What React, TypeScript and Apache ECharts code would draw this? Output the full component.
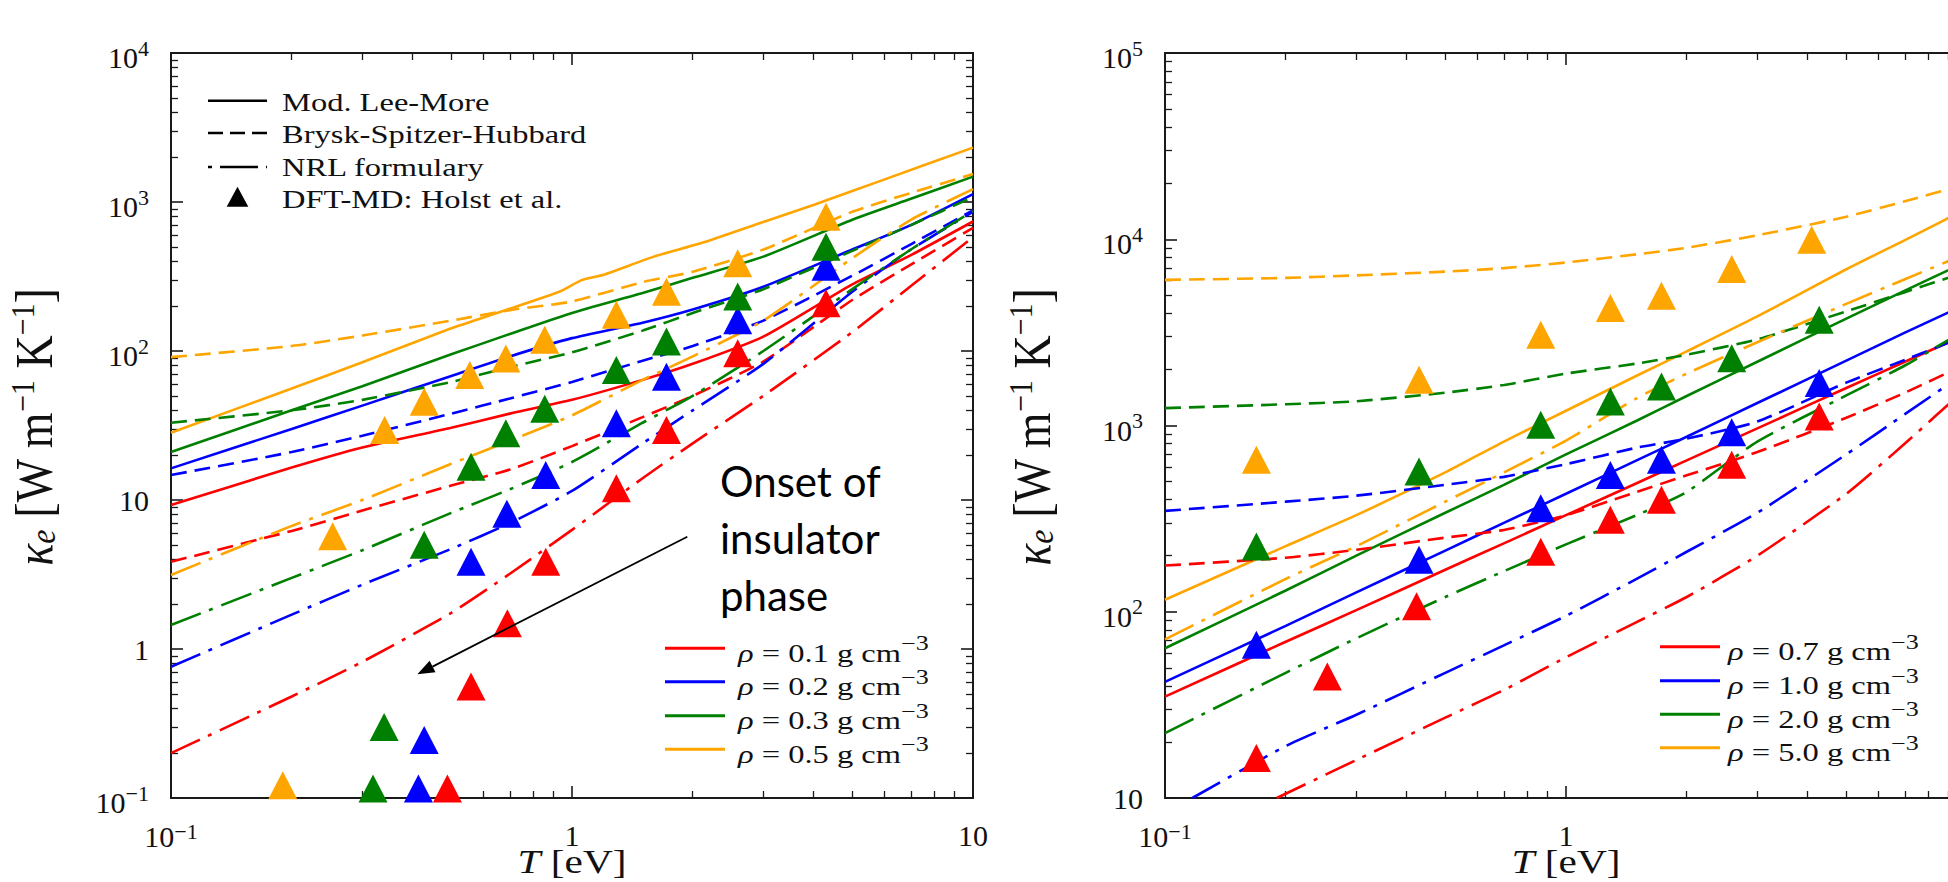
import React, { useEffect, useRef } from 'react';
import * as echarts from 'echarts';

const RED = '#ff0000';
const BLUE = '#0000ff';
const GREEN = '#008000';
const ORANGE = '#ffa500';
const INK = '#111111';
const FRAME = '#1a1a1a';
const SERIF = "'Liberation Serif', 'DejaVu Serif', serif";
const SANS = "Lato, 'Open Sans', sans-serif";

// ---------------- Left panel (rho = 0.1 ... 0.5 g/cm3) ----------------
const T_L = [0.1, 0.2, 0.3, 0.5, 0.7, 1, 1.5, 2, 3, 5, 7, 10];
const L_LM_01 = [9.25, 16.5, 22.5, 30.5, 38, 47, 64, 82, 125, 280, 440, 740];
const L_LM_02 = [16.3, 30, 43, 68, 92, 122, 155, 190, 270, 480, 700, 1130];
const L_LM_03 = [21, 40, 58, 95, 130, 180, 245, 310, 430, 760, 1050, 1480];
const T_L_LM_05 = [0.1, 0.2, 0.3, 0.5, 0.63, 0.93, 1.06, 1.2, 1.6, 2.1, 3, 4, 6, 10];
const L_LM_05 = [28.3, 56, 84, 142, 175, 250, 300, 325, 430, 530, 735, 955, 1413, 2317];
const L_BSH_01 = [3.85, 6.2, 8.5, 12.5, 16, 23, 36, 50, 85, 220, 380, 670];
const L_BSH_02 = [14.7, 21, 27, 38, 48, 62, 86, 108, 160, 320, 520, 880];
const L_BSH_03 = [33, 40, 47, 62, 78, 98, 137, 180, 260, 470, 700, 1080];
const L_BSH_05 = [91, 108, 127, 160, 188, 215, 290, 340, 480, 860, 1150, 1540];
const L_NRL_01 = [0.2, 0.48, 0.82, 1.75, 3.2, 6.3, 14, 24, 50, 134, 273, 580];
const L_NRL_02 = [0.76, 1.7, 2.7, 4.7, 7.0, 11.5, 24, 40, 82, 250, 480, 860];
const L_NRL_03 = [1.45, 3.0, 4.6, 8.2, 11.8, 18, 33, 50, 100, 260, 480, 870];
const L_NRL_05 = [3.14, 6.7, 10, 17.5, 25, 37, 64, 92, 160, 420, 760, 1220];

const L_DFT_01_T = [0.489, 0.56, 0.69, 0.86, 1.29, 1.72, 2.59, 4.3];
const L_DFT_01_K = [0.116, 0.56, 1.49, 3.85, 12.0, 29.5, 96.5, 209];
const L_DFT_02_T = [0.414, 0.428, 0.56, 0.688, 0.86, 1.29, 1.72, 2.59, 4.3];
const L_DFT_02_K = [0.116, 0.245, 3.85, 8.1, 14.7, 32.7, 67.3, 161, 368];
const L_DFT_03_T = [0.319, 0.34, 0.428, 0.56, 0.684, 0.855, 1.29, 1.72, 2.59, 4.3];
const L_DFT_03_K = [0.116, 0.3, 5.0, 16.7, 28, 41, 74.5, 116, 232, 501];
const L_DFT_05_T = [0.19, 0.253, 0.341, 0.428, 0.556, 0.684, 0.855, 1.29, 1.72, 2.59, 4.3];
const L_DFT_05_K = [0.122, 5.7, 29.5, 45.7, 69, 89, 119, 175, 250, 388, 797];

// ---------------- Right panel (rho = 0.7 ... 5.0 g/cm3) ----------------
const T_R = [0.1, 0.2, 0.3, 0.5, 0.7, 1, 1.5, 2, 3, 5, 7, 10];
const R_LM_07 = [35, 69, 102, 168, 233, 330, 490, 650, 965, 1590, 2200, 3100];
const R_LM_10 = [42, 84, 127, 213, 300, 430, 650, 870, 1320, 2230, 3150, 4500];
const R_LM_20 = [63.7, 130, 200, 340, 480, 700, 1060, 1440, 2200, 3750, 5300, 7600];
const R_LM_50 = [116, 225, 330, 560, 820, 1200, 1850, 2500, 3850, 6900, 9900, 14600];
const R_BSH_07 = [177, 195, 215, 250, 275, 330, 440, 540, 720, 1100, 1500, 2150];
const R_BSH_10 = [348, 390, 420, 480, 530, 620, 760, 850, 1050, 1700, 2250, 3050];
const R_BSH_20 = [1240, 1300, 1350, 1500, 1650, 1900, 2150, 2400, 2900, 4100, 5200, 6700];
const R_BSH_50 = [6050, 6200, 6400, 6700, 7000, 7500, 8300, 9000, 10500, 13200, 16000, 19800];
const T_R_NRL_07 = [0.19, 0.3, 0.5, 0.7, 1, 1.5, 2, 3, 5, 7, 10];
const R_NRL_07 = [10, 16, 27, 38, 57, 88, 120, 200, 430, 800, 1600];
const T_R_NRL_10 = [0.117, 0.2, 0.3, 0.5, 0.7, 1, 1.5, 2, 3, 5, 7, 10];
const R_NRL_10 = [10, 19, 28, 47, 66, 95, 150, 210, 340, 700, 1150, 1950];
const R_NRL_20 = [22.3, 47, 72, 120, 165, 230, 330, 440, 820, 1450, 2100, 3300];
const R_NRL_50 = [71, 150, 225, 390, 560, 830, 1400, 1900, 2800, 4500, 6100, 8400];

const R_DFT_07_T = [0.169, 0.254, 0.424, 0.865, 1.29, 1.73, 2.59, 4.28];
const R_DFT_07_K = [16.4, 44.9, 107, 210, 312, 399, 615, 1117];
const R_DFT_10_T = [0.169, 0.43, 0.865, 1.29, 1.73, 2.59, 4.28];
const R_DFT_10_K = [66.4, 190, 360, 543, 655, 920, 1690];
const R_DFT_20_T = [0.169, 0.43, 0.865, 1.29, 1.73, 2.59, 4.28];
const R_DFT_20_K = [224, 566, 1009, 1345, 1620, 2300, 3700];
const R_DFT_50_T = [0.169, 0.43, 0.865, 1.29, 1.73, 2.59, 4.1];
const R_DFT_50_K = [655, 1760, 3070, 4270, 4970, 6920, 9930];

// ---------------- Tick labels ----------------
type TickLabel = [number, string, string];
const X_TICKS: TickLabel[] = [[0.1, '10', '−1'], [1, '1', ''], [10, '10', '']];
const LEFT_Y_TICKS: TickLabel[] = [
  [0.1, '10', '−1'], [1, '1', ''], [10, '10', ''], [100, '10', '2'], [1000, '10', '3'], [10000, '10', '4'],
];
const RIGHT_Y_TICKS: TickLabel[] = [
  [10, '10', ''], [100, '10', '2'], [1000, '10', '3'], [10000, '10', '4'], [100000, '10', '5'],
];
const MINOR_MULT = [2, 3, 4, 5, 6, 7, 8, 9];

// legend texts
const STYLE_LEGEND = ['Mod. Lee-More', 'Brysk-Spitzer-Hubbard', 'NRL formulary', 'DFT-MD: Holst et al.'];
const LEFT_RHO = ['0.1', '0.2', '0.3', '0.5'];
const RIGHT_RHO = ['0.7', '1.0', '2.0', '5.0'];
const RHO_COLORS = [RED, BLUE, GREEN, ORANGE];

const DASHED = [16, 8];
const DASHDOT = [32, 9, 4, 9];

function minorLogs(lo: number, hi: number) {
  const out: number[] = [];
  for (let e = lo; e < hi; e++) for (const m of MINOR_MULT) out.push(e + Math.log10(m));
  return out;
}

const tickRich = {
  b: { fontFamily: SERIF, fontSize: 30, color: INK },
  bs: { fontFamily: SERIF, fontSize: 30, color: INK, padding: [9, 0, 0, 0] },
  s: { fontFamily: SERIF, fontSize: 22, color: INK, padding: [0, 0, 10, 0] },
};

function tickFormatter(labels: TickLabel[], isY: boolean) {
  return (v: number) => {
    const e = Math.round(Math.log10(v));
    const hit = labels.find((l) => Math.round(Math.log10(l[0])) === e);
    if (!hit) return '';
    if (!hit[2]) return `{b|${hit[1]}}`;
    return `{${isY ? 'bs' : 'b'}|${hit[1]}}{s|${hit[2]}}`;
  };
}

function logAxis(
  gridIndex: number,
  position: string,
  min: number,
  max: number,
  labels?: TickLabel[],
  isY?: boolean,
  showMax = true,
) {
  return {
    type: 'log',
    logBase: 10,
    gridIndex,
    position,
    min,
    max,
    axisLine: { show: true, onZero: false, lineStyle: { color: FRAME, width: 2 } },
    axisTick: { show: true, inside: true, length: 12, lineStyle: { color: FRAME, width: 1.6 } },
    minorTick: { show: false },
    splitLine: { show: false },
    axisLabel: labels
      ? {
          show: true,
          margin: 22,
          showMaxLabel: showMax,
          formatter: tickFormatter(labels, !!isY),
          rich: tickRich,
          color: INK,
          fontFamily: SERIF,
          fontSize: 30,
        }
      : { show: false },
  };
}

function minorAxis(gridIndex: number, position: string, lo: number, hi: number) {
  return {
    type: 'value',
    gridIndex,
    position,
    min: lo,
    max: hi,
    axisLine: { show: false, onZero: false },
    axisTick: { show: true, inside: true, length: 7, customValues: minorLogs(lo, hi), lineStyle: { color: FRAME, width: 1.3 } },
    axisLabel: { show: false },
    splitLine: { show: false },
  };
}

function curve(name: string, T: number[], K: number[], color: string, dash: any, axis: number) {
  return {
    type: 'line',
    name,
    xAxisIndex: axis,
    yAxisIndex: axis,
    data: T.map((t, i) => [t, K[i]]),
    showSymbol: false,
    symbol: 'none',
    smooth: 0.2,
    lineStyle: { color, width: 2.6, type: dash },
    itemStyle: { color },
    z: 3,
    silent: true,
    clip: true,
  };
}

function dft(name: string, T: number[], K: number[], color: string, axis: number) {
  return {
    type: 'scatter',
    name,
    xAxisIndex: axis,
    yAxisIndex: axis,
    data: T.map((t, i) => [t, K[i]]),
    symbol: 'triangle',
    symbolSize: [29, 28],
    itemStyle: { color, opacity: 1 },
    z: 5,
    silent: true,
  };
}

const titleRich = {
  i: { fontFamily: SERIF, fontStyle: 'italic', fontSize: 46, fill: INK },
  sub: { fontFamily: SERIF, fontStyle: 'italic', fontSize: 32, fill: INK, padding: [15, 0, 0, 0] },
  r: { fontFamily: SERIF, fontSize: 46, fill: INK },
  sup: { fontFamily: SERIF, fontSize: 30, fill: INK, padding: [0, 0, 20, 0] },
};
const xTitleRich = {
  i: { fontFamily: SERIF, fontStyle: 'italic', fontSize: 33, fill: INK },
  r: { fontFamily: SERIF, fontSize: 33, fill: INK },
};
const rhoRich = {
  i: { fontFamily: SERIF, fontStyle: 'italic', fontSize: 25, fill: INK },
  r: { fontFamily: SERIF, fontSize: 25, fill: INK },
  s: { fontFamily: SERIF, fontSize: 20, fill: INK, padding: [0, 0, 20, 0] },
};

function yTitle(x: number) {
  return {
    type: 'text',
    x,
    y: 427,
    rotation: Math.PI / 2,
    scaleY: 1.15,
    z: 100,
    style: {
      text: '{i|κ}{sub|e}{r| [W m}{sup|−1}{r| K}{sup|−1}{r|]}',
      rich: titleRich,
      align: 'center',
      verticalAlign: 'middle',
      fill: INK,
    },
  };
}

function xTitle(x: number) {
  return {
    type: 'text',
    x,
    y: 862,
    scaleX: 1.25,
    z: 100,
    style: { text: '{i|T}{r| [eV]}', rich: xTitleRich, align: 'center', verticalAlign: 'middle', fill: INK },
  };
}

function rhoLegend(x0: number, x1: number, tx: number, ys: number[], rhos: string[]) {
  const els: any[] = [];
  ys.forEach((y, i) => {
    els.push({
      type: 'line',
      z: 100,
      shape: { x1: x0, y1: y, x2: x1, y2: y },
      style: { stroke: RHO_COLORS[i], lineWidth: 3 },
    });
    els.push({
      type: 'text',
      x: tx,
      y: y + 5,
      scaleX: 1.3,
      z: 100,
      style: {
        text: `{i|ρ}{r| = ${rhos[i]} g cm}{s|−3}`,
        rich: rhoRich,
        align: 'left',
        verticalAlign: 'middle',
        fill: INK,
      },
    });
  });
  return els;
}

function styleLegend() {
  const lineYs = [100.7, 133, 167];
  const textYs = [102.3, 134.8, 167.3, 199.8];
  const dashes: any[] = [null, [15, 7], [38, 8, 4, 8]];
  const els: any[] = [];
  lineYs.forEach((y, i) => {
    els.push({
      type: 'line',
      z: 100,
      shape: { x1: 208, y1: y, x2: 267, y2: y },
      style: { stroke: '#000', lineWidth: 2.6, lineDash: dashes[i] || null, lineDashOffset: i === 2 ? 46 : 0 },
    });
  });
  els.push({
    type: 'polygon',
    z: 100,
    shape: { points: [[237.5, 186.7], [248.3, 206.7], [226.7, 206.7]] },
    style: { fill: '#000' },
  });
  STYLE_LEGEND.forEach((t, i) => {
    els.push({
      type: 'text',
      x: 282,
      y: textYs[i],
      scaleX: 1.3,
      z: 100,
      style: { text: t, fontFamily: SERIF, fontSize: 25, fill: INK, align: 'left', verticalAlign: 'middle' },
    });
  });
  return els;
}

function annotation() {
  const tip = [417.4, 674.3];
  const start = [687.3, 536.7];
  const dx = tip[0] - start[0];
  const dy = tip[1] - start[1];
  const len = Math.hypot(dx, dy);
  const ux = dx / len;
  const uy = dy / len;
  const hl = 17;
  const hw = 6.5;
  const bx = tip[0] - hl * ux;
  const by = tip[1] - hl * uy;
  return [
    {
      type: 'text',
      x: 720,
      y: 452,
      z: 100,
      style: {
        text: 'Onset of\ninsulator\nphase',
        fontFamily: SANS,
        fontSize: 42,
        lineHeight: 57,
        fill: '#000',
        align: 'left',
        verticalAlign: 'top',
      },
    },
    {
      type: 'line',
      z: 100,
      shape: { x1: start[0], y1: start[1], x2: bx, y2: by },
      style: { stroke: '#000', lineWidth: 1.8 },
    },
    {
      type: 'polygon',
      z: 100,
      shape: {
        points: [
          [tip[0], tip[1]],
          [bx - hw * uy, by + hw * ux],
          [bx + hw * uy, by - hw * ux],
        ],
      },
      style: { fill: '#000' },
    },
  ];
}

export default function App() {
  const ref = useRef<HTMLDivElement>(null);

  useEffect(() => {
    if (!ref.current) return;
    const chart = echarts.init(ref.current, null, { renderer: 'svg' });

    const series: any[] = [
      // left lines
      curve('ρ = 0.1 g cm−3', T_L, L_LM_01, RED, 'solid', 0),
      curve('ρ = 0.2 g cm−3', T_L, L_LM_02, BLUE, 'solid', 0),
      curve('ρ = 0.3 g cm−3', T_L, L_LM_03, GREEN, 'solid', 0),
      curve('ρ = 0.5 g cm−3', T_L_LM_05, L_LM_05, ORANGE, 'solid', 0),
      curve('BSH 0.1', T_L, L_BSH_01, RED, DASHED, 0),
      curve('BSH 0.2', T_L, L_BSH_02, BLUE, DASHED, 0),
      curve('BSH 0.3', T_L, L_BSH_03, GREEN, DASHED, 0),
      curve('BSH 0.5', T_L, L_BSH_05, ORANGE, DASHED, 0),
      curve('NRL 0.1', T_L, L_NRL_01, RED, DASHDOT, 0),
      curve('NRL 0.2', T_L, L_NRL_02, BLUE, DASHDOT, 0),
      curve('NRL 0.3', T_L, L_NRL_03, GREEN, DASHDOT, 0),
      curve('NRL 0.5', T_L, L_NRL_05, ORANGE, DASHDOT, 0),
      dft('DFT 0.1', L_DFT_01_T, L_DFT_01_K, RED, 0),
      dft('DFT 0.2', L_DFT_02_T, L_DFT_02_K, BLUE, 0),
      dft('DFT 0.3', L_DFT_03_T, L_DFT_03_K, GREEN, 0),
      dft('DFT 0.5', L_DFT_05_T, L_DFT_05_K, ORANGE, 0),
      // right lines
      curve('ρ = 0.7 g cm−3', T_R, R_LM_07, RED, 'solid', 4),
      curve('ρ = 1.0 g cm−3', T_R, R_LM_10, BLUE, 'solid', 4),
      curve('ρ = 2.0 g cm−3', T_R, R_LM_20, GREEN, 'solid', 4),
      curve('ρ = 5.0 g cm−3', T_R, R_LM_50, ORANGE, 'solid', 4),
      curve('BSH 0.7', T_R, R_BSH_07, RED, DASHED, 4),
      curve('BSH 1.0', T_R, R_BSH_10, BLUE, DASHED, 4),
      curve('BSH 2.0', T_R, R_BSH_20, GREEN, DASHED, 4),
      curve('BSH 5.0', T_R, R_BSH_50, ORANGE, DASHED, 4),
      curve('NRL 0.7', T_R_NRL_07, R_NRL_07, RED, DASHDOT, 4),
      curve('NRL 1.0', T_R_NRL_10, R_NRL_10, BLUE, DASHDOT, 4),
      curve('NRL 2.0', T_R, R_NRL_20, GREEN, DASHDOT, 4),
      curve('NRL 5.0', T_R, R_NRL_50, ORANGE, DASHDOT, 4),
      dft('DFT 0.7', R_DFT_07_T, R_DFT_07_K, RED, 4),
      dft('DFT 1.0', R_DFT_10_T, R_DFT_10_K, BLUE, 4),
      dft('DFT 2.0', R_DFT_20_T, R_DFT_20_K, GREEN, 4),
      dft('DFT 5.0', R_DFT_50_T, R_DFT_50_K, ORANGE, 4),
    ];

    const option: any = {
      animation: false,
      backgroundColor: '#ffffff',
      grid: [
        { left: 171, top: 53, width: 802, height: 745, containLabel: false, outerBoundsMode: 'none' },
        { left: 1165, top: 53, width: 802, height: 745, containLabel: false, outerBoundsMode: 'none' },
      ],
      xAxis: [
        logAxis(0, 'bottom', 0.1, 10, X_TICKS, false),
        logAxis(0, 'top', 0.1, 10),
        minorAxis(0, 'bottom', -1, 1),
        minorAxis(0, 'top', -1, 1),
        logAxis(1, 'bottom', 0.1, 10, X_TICKS, false, false),
        logAxis(1, 'top', 0.1, 10),
        minorAxis(1, 'bottom', -1, 1),
        minorAxis(1, 'top', -1, 1),
      ],
      yAxis: [
        logAxis(0, 'left', 0.1, 10000, LEFT_Y_TICKS, true),
        logAxis(0, 'right', 0.1, 10000),
        minorAxis(0, 'left', -1, 4),
        minorAxis(0, 'right', -1, 4),
        logAxis(1, 'left', 10, 100000, RIGHT_Y_TICKS, true),
        logAxis(1, 'right', 10, 100000),
        minorAxis(1, 'left', 1, 5),
        minorAxis(1, 'right', 1, 5),
      ],
      series,
      graphic: [
        yTitle(34),
        yTitle(1032),
        xTitle(572),
        xTitle(1566),
        ...styleLegend(),
        ...rhoLegend(665, 725, 738, [648.3, 681.7, 715.7, 749.3], LEFT_RHO),
        ...rhoLegend(1660, 1720, 1728, [646.7, 680.7, 714.3, 747.7], RIGHT_RHO),
        ...annotation(),
      ],
    };

    chart.setOption(option);
    return () => {
      chart.dispose();
    };
  }, []);

  return (
    <div
      ref={ref}
      style={{ position: 'fixed', left: 0, top: 0, width: 1948, height: 882, background: '#ffffff', overflow: 'hidden' }}
    />
  );
}
